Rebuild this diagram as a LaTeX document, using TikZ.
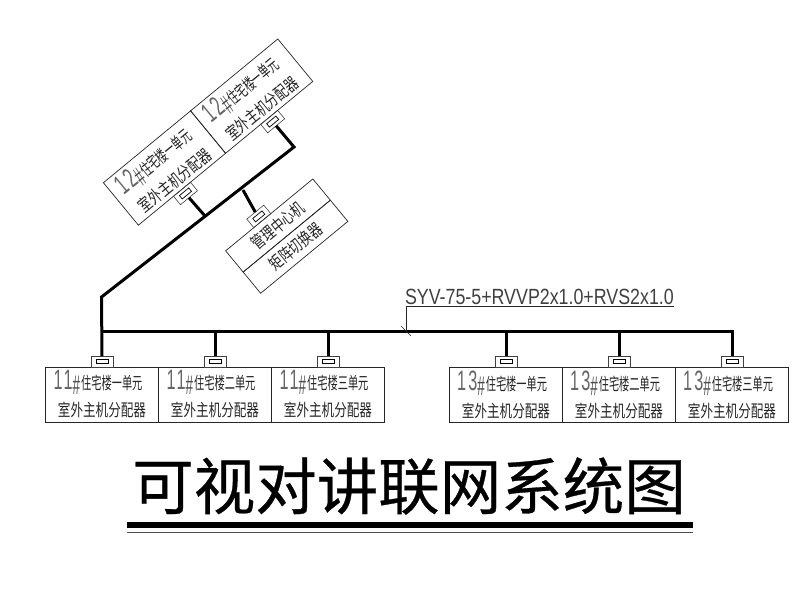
\documentclass[tikz,border=0pt]{standalone}
\usepackage{fontspec}
\newfontfamily\cjkwide[FakeStretch=0.74]{Noto Sans CJK SC}
\newfontfamily\cjknarrow[FakeStretch=0.6]{Noto Sans CJK SC}
\newfontfamily\cjktitle[FakeBold=0.5]{Noto Sans CJK SC}
\newfontfamily\cadfont[FakeStretch=0.81]{Liberation Sans}
\newfontfamily\digitfont[FakeStretch=0.58,LetterSpace=8]{Liberation Sans}
\newfontfamily\hashfont[FakeStretch=0.5]{Liberation Sans}
\usetikzlibrary{
    positioning,
    calc
}
% First line of a distributor label: tower number and unit
\newcommand{\towerline}[2]{{\color{black!60}\digitfont\fontsize{28}{28}\selectfont #1}{\color{black!70}\hashfont\fontsize{27}{27}\selectfont\raisebox{-5pt}{\#}}{\hspace{1pt}\cjknarrow\fontsize{17}{27}\selectfont 住宅楼#2单元}\hspace*{8pt}}

\begin{document}
\begin{tikzpicture}[
    x=1pt, y=1pt,
    unit/.style={
        draw, rectangle, minimum height=55pt, minimum width=113pt,
        inner sep=0pt, outer sep=0pt, align=center, line width=0.7pt,
        black!85, text=black!85, font=\cjkwide\fontsize{17}{27}\selectfont
    },
    cell/.style={
        draw, rectangle, minimum height=27.5pt, minimum width=113pt,
        inner sep=0pt, outer sep=0pt, align=center, line width=0.7pt,
        black!85, text=black!85, font=\cjkwide\fontsize{17}{20}\selectfont
    },
    port/.style={
        draw, rectangle, minimum height=11pt, minimum width=22pt,
        inner sep=0pt, outer sep=0pt, line width=0.6pt, black!75,
        path picture={
            \draw[line width=0.7pt, black] (path picture bounding box.center)
                +(-6,-2.2) rectangle +(6,2.2);
        }
    },
    bus/.style={line width=3pt, line join=miter},
    leader/.style={line width=0.6pt, black!85}
]

% Define positioning
\pgfmathsetmacro{\ang}{39.5}

% ============================== BUILDING 11 ==============================
\node[unit] (box_11_1) at (102,-394.5) {\towerline{11}{一}\\室外主机分配器};
\node[unit, right=0pt of box_11_1] (box_11_2) {\towerline{11}{二}\\室外主机分配器};
\node[unit, right=0pt of box_11_2] (box_11_3) {\towerline{11}{三}\\室外主机分配器};
\node[port, above=0pt of box_11_1] (port_11_1) {};
\node[port, above=0pt of box_11_2] (port_11_2) {};
\node[port, above=0pt of box_11_3] (port_11_3) {};

% ============================== BUILDING 13 ==============================
\node[unit] (box_13_1) at (506,-394.5) {\towerline{13}{一}\\室外主机分配器};
\node[unit, right=0pt of box_13_1] (box_13_2) {\towerline{13}{二}\\室外主机分配器};
\node[unit, right=0pt of box_13_2] (box_13_3) {\towerline{13}{三}\\室外主机分配器};
\node[port, above=0pt of box_13_1] (port_13_1) {};
\node[port, above=0pt of box_13_2] (port_13_2) {};
\node[port, above=0pt of box_13_3] (port_13_3) {};

% ============================== BUILDING 12 ==============================
\node[unit, rotate=\ang] (box_12_1) at (164.5,-168) {\towerline{12}{一}\\室外主机分配器};
\node[unit, rotate=\ang, anchor=west] (box_12_2) at (box_12_1.east) {\towerline{12}{一}\\室外主机分配器};
\node[port, rotate=\ang, anchor=north] (port_12_1) at (box_12_1.south) {};
\node[port, rotate=\ang, anchor=north] (port_12_2) at (box_12_2.south) {};

% ============================== CENTRE ==============================
\node[cell, rotate=\ang] (centre) at (278,-225.5) {管理中心机};
\node[cell, rotate=\ang, anchor=north] (matrix) at (centre.south) {矩阵切换器};
\node[port, rotate=\ang, anchor=south] (port_centre) at ($(centre.north west)!0.42!(centre.north east)$) {};

% ============================== TRUNK ==============================
\coordinate (bus_west) at (port_11_1.north |- 0,-331);
\coordinate (bus_east) at (port_13_3.north |- 0,-331);
\coordinate (bend_low) at (101.5,-297);
\coordinate (bend_high) at (294,-147);
\coordinate (tap_12) at (205,-216);
\coordinate (tap_centre) at (243,-190);
\coordinate (tick) at (406,-331);
\coordinate (leader_end) at (674,-306.5);

\draw[bus] (port_11_1.north) -- (bend_low) -- (bend_high) -- (port_12_2.south);
\draw[bus] (port_12_1.south) -- (tap_12);
\draw[bus] (port_centre.north) -- (tap_centre);
\draw[bus] (bus_west) -- (bus_east) -- (port_13_3.north);
\draw[bus] (port_11_2.north) -- (port_11_2.north |- bus_west);
\draw[bus] (port_11_3.north) -- (port_11_3.north |- bus_west);
\draw[bus] (port_13_1.north) -- (port_13_1.north |- bus_west);
\draw[bus] (port_13_2.north) -- (port_13_2.north |- bus_west);

% Cable label
\node[above left=2pt and 0pt of leader_end, inner sep=0pt, black!75, font=\cadfont\fontsize{22}{22}\selectfont] (cable) {SYV-75-5+RVVP2x1.0+RVS2x1.0};
\draw[leader] (tick) |- (leader_end);
\draw[leader] ($(tick)+(-5,5)$) -- ($(tick)+(5,-5)$);

% ============================== TITLE ==============================
\node[inner sep=0pt, font=\cjktitle\fontsize{61.5}{61.5}\selectfont] (title) at (409,-486) {可视对讲联网系统图};
\coordinate (rule_west) at (127,-525);
\coordinate (rule_east) at (693,-525);
\draw[line width=6pt] (rule_west) -- (rule_east);
\draw[line width=0.7pt, black!70] ($(rule_west)+(0,-7)$) -- ($(rule_east)+(0,-7)$);

\useasboundingbox (0,0) rectangle (800,-600);
\end{tikzpicture}
\end{document}
